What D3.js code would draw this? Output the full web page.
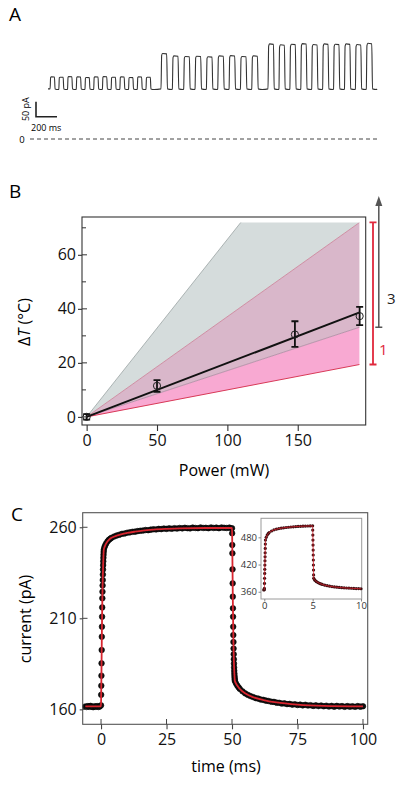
<!DOCTYPE html>
<html><head><meta charset="utf-8">
<script src="https://cdn.jsdelivr.net/npm/d3@7"></script>
<style>body{margin:0;background:#fff}svg{display:block}text{font-family:"Open Sans",sans-serif}</style>
</head><body><svg id="c" width="400" height="785"></svg>
<script>
// ---------- Panel A data ----------
const groupStartA = [20, 1076, 2095];          // ms
const groupPeriodA = [83, 108, 104];           // ms
const pulseAmpA1 = [40, 39, 41, 40, 38, 40, 41, 39, 40, 38, 40, 39];
const pulseAmpA2 = [118, 110, 108, 109, 107, 110, 111, 108, 110];
const pulseAmpA3 = [150, 147, 149, 151, 148, 150, 149, 150, 148, 152];
const baselineA = 167;                          // pA
const scaleBarA = {ms: 200, pA: 50};

// ---------- Panel B data ----------
const powerB = [0, 50, 148, 194];
const deltaTB = [0, 11.5, 30.5, 37.3];
const errLowB = [-1, 9.3, 25.9, 34];
const errHighB = [1, 13.6, 35.4, 40.7];
const fitPowerB = [0, 194];
const fitDeltaTB = [0, 38.7];
const bandPowerB = 194;
const greyHiB = 127.5, pinkHiB = 72, greyLoB = 33.2, pinkLoB = 19.4, capB = 72;
const xTicksB = [0, 50, 100, 150];
const yTicksB = [0, 20, 40, 60];
const yMinorB = [10, 30, 50, 70];

// ---------- Panel C data ----------
const timeC = [-6,-5.5,-5,-4.5,-4,-3.5,-3,-2.5,-2,-1.5,-1,-0.5,0,
 0.05,0.1,0.15,0.2,0.25,0.3,0.35,0.4,0.45,0.5,0.55,0.6,0.65,0.7,0.75,0.8,0.85,0.9,0.95,1,1.05,
 1.3,1.6,2,2.5,3,3.5,
 4,5,6,7,8,9,10,11,12,13,14,15,16,17,18,19,20,21,22,23,24,25,26,27,28,29,30,31,32,33,34,35,36,37,38,39,40,41,42,43,44,45,46,47,48,49,50,
 50.05,50.1,50.15,50.2,50.25,50.3,50.35,50.4,50.45,50.5,50.55,50.6,50.65,50.7,50.75,50.8,50.85,50.9,50.95,51,51.05,51.1,
 51.5,52,52.5,53,54,55,56,57,58,59,60,61,62,63,64,65,66,67,68,69,70,71,72,73,74,75,76,77,78,79,80,81,82,83,84,85,86,87,88,89,90,91,92,93,94,95,96,97,98,99,100];
const currentC = [161.6,161.3,161.8,161.4,161.9,161.5,161.2,161.7,161.4,161.8,161.3,161.6,162.2,
 168,173,178.5,185.3,192.6,199.9,205.4,210.9,216,221,224.6,228,231,234,236.8,239.2,241.3,243.2,244.9,246.4,247.6,
 249,250.1,251.2,252.3,253.1,253.7,
 254.2,254.9,255.5,255.9,256.4,256.6,257.0,257.2,257.5,257.6,257.9,258.1,258.2,258.5,258.4,258.7,258.9,258.8,259.1,259.0,259.3,259.1,259.4,259.2,259.5,259.3,259.6,259.4,259.7,259.5,259.4,259.8,259.6,259.5,259.9,259.6,259.7,259.5,259.9,259.6,259.8,259.5,259.9,259.7,259.6,259.8,259.5,
 256.7,250.3,245.7,236.9,229.2,221.9,215.5,210.9,205.4,200.8,197,193.4,190.3,187.5,185.1,183,181.2,179.7,178.4,177.3,176.4,175.6,
 174.3,173.1,172.1,171.2,169.9,168.8,168.0,167.3,166.8,166.2,165.9,165.4,165.2,164.8,164.6,164.2,164.1,163.7,163.6,163.2,163.3,162.9,163.0,162.6,162.8,162.4,162.6,162.2,162.5,162.1,162.3,161.9,162.2,161.8,162.1,161.7,162.0,161.6,161.9,161.5,161.9,161.6,161.8,161.4,161.8,161.5,161.7,161.4,161.8,161.5,161.7];
const fitTimeC = [-6,0,0.05,0.1,0.2,0.3,0.4,0.5,0.6,0.7,0.8,0.9,1.05,1.3,1.6,2,2.5,3,4,6,8,10,13,16,20,25,30,40,50,
 50.05,50.1,50.2,50.3,50.4,50.5,50.6,50.7,50.8,50.9,51.1,51.5,52,53,55,58,62,67,75,85,100];
const fitCurrentC = [161.6,161.6,168,173,185.3,199.9,210.9,221,228,234,239.2,243.2,247.6,249,250.1,251.2,252.3,253.1,254.2,255.4,256.3,256.9,257.6,258.2,258.7,259.1,259.4,259.6,259.6,
 256.7,250.3,236.9,221.9,210.9,200.8,193.4,187.5,183,179.7,175.6,174.3,173.1,171.2,168.8,166.7,165.1,163.8,162.6,161.9,161.6];
const xTicksC = [0, 25, 50, 75, 100];
const yTicksC = [160, 210, 260];

// inset
const timeI = [-0.05,0,0.01,0.02,0.03,0.04,0.05,0.06,0.07,0.08,0.09,0.1,0.11,0.12,
 0.2,0.3,0.4,0.5,0.75,1,1.25,1.5,1.75,2,2.25,2.5,2.75,3,3.25,3.5,3.75,4,4.25,4.5,4.75,5,
 5.01,5.02,5.03,5.04,5.05,5.06,5.07,5.08,5.09,5.1,5.11,
 5.2,5.3,5.4,5.55,5.7,5.85,6,6.25,6.5,6.75,7,7.25,7.5,7.75,8,8.25,8.5,8.75,9,9.25,9.5,9.75,10];
const currentI = [364,364.5,367.4,378.4,389.5,400.5,409.4,418.8,428.3,437.1,445.9,455.6,465.2,474,
 480,485,488,490.5,494,496.5,498,499.3,500.2,501,501.7,502.3,502.8,503.3,503.7,504,504.3,504.6,504.8,505,505.2,505.3,
 496,485,474,463,452,441,430,419,408,397,389.5,
 386,384,382.3,380.3,378.6,377.3,376.2,374.6,373.3,372.2,371.3,370.6,370,369.5,369,368.6,368.3,368,367.7,367.4,367.1,366.9,366.6];
const xTicksI = [0, 5, 10];
const yTicksI = [360, 420, 480];

const svg = d3.select("#c");
const FONT = '"Open Sans",sans-serif';

// ================= Panel A =================
svg.append("text").attr("x", 9).attr("y", 21).attr("font-size", 19).text("A");
const xA = d3.scaleLinear().domain([0, 3133]).range([48, 377]);
const yA = d3.scaleLinear().domain([0, 100]).range([139, 109]);
const traceA = [[0, baselineA]];
[pulseAmpA1, pulseAmpA2, pulseAmpA3].forEach((amps, g) => {
  const s0 = groupStartA[g], p = groupPeriodA[g];
  amps.forEach((a, i) => {
    const s = s0 + i * p;
    traceA.push([s, baselineA], [s + 0.06 * p, baselineA + a * 0.95], [s + 0.14 * p, baselineA + a],
      [s + 0.5 * p, baselineA + a * 0.99], [s + 0.57 * p, baselineA], [s + 0.93 * p, baselineA - 2]);
  });
});
traceA.push([3133, baselineA]);
svg.append("path").datum(traceA)
  .attr("d", d3.line().x(d => xA(d[0])).y(d => yA(d[1])).curve(d3.curveMonotoneX))
  .attr("fill", "none").attr("stroke", "#333").attr("stroke-width", 1.1);
// scale bar
const sbx = 36, sby = 116.7;
const sbLen = xA(scaleBarA.ms) - xA(0);
const sbH = yA(0) - yA(scaleBarA.pA);
svg.append("path").attr("d", `M${sbx},${sby - sbH}V${sby}H${sbx + sbLen}`)
  .attr("fill", "none").attr("stroke", "#222").attr("stroke-width", 1.6);
svg.append("text").attr("transform", `translate(28.5,${sby - sbH / 2}) rotate(-90)`)
  .attr("text-anchor", "middle").attr("font-size", 9).text(scaleBarA.pA + " pA");
svg.append("text").attr("x", 31).attr("y", 131).attr("font-size", 9).text(scaleBarA.ms + " ms");
svg.append("text").attr("x", 22).attr("y", yA(0) + 3.5).attr("text-anchor", "middle").attr("font-size", 9.5).text("0");
svg.append("line").attr("x1", 30).attr("x2", 378).attr("y1", yA(0)).attr("y2", yA(0))
  .attr("stroke", "#444").attr("stroke-width", 1).attr("stroke-dasharray", "4,3");

// ================= Panel B =================
svg.append("text").attr("x", 9).attr("y", 198).attr("font-size", 19).text("B");
const xB = d3.scaleLinear().domain([-3.3, 198.3]).range([82, 365.7]);
const yB = d3.scaleLinear().domain([-3, 74]).range([425, 217]);
const gB = svg.append("g");
const clip = svg.append("clipPath").attr("id", "clipB");
clip.append("rect").attr("x", xB(0) - 1).attr("y", yB(capB)).attr("width", xB(bandPowerB) - xB(0) + 1).attr("height", yB(0) - yB(capB) + 2);
const tri = (hi, lo) => `M${xB(0)},${yB(0)}L${xB(bandPowerB)},${yB(hi)}L${xB(bandPowerB)},${yB(lo)}Z`;
const bands = gB.append("g").attr("clip-path", "url(#clipB)");
bands.append("path").attr("d", tri(greyHiB, pinkHiB)).attr("fill", "#d5dcdc");
bands.append("path").attr("d", tri(pinkHiB, greyLoB)).attr("fill", "#d9b7ca");
bands.append("path").attr("d", tri(greyLoB, pinkLoB)).attr("fill", "#f8a9d2");
const ray = (v, col, w) => bands.append("line").attr("x1", xB(0)).attr("y1", yB(0))
  .attr("x2", xB(bandPowerB)).attr("y2", yB(v)).attr("stroke", col).attr("stroke-width", w);
ray(greyHiB, "#9aa3a3", 0.8);
ray(pinkHiB, "#c97d94", 0.8);
ray(greyLoB, "#a98aa0", 0.8);
ray(pinkLoB, "#d83a58", 1);
// fit
gB.append("path").datum(fitPowerB.map((p, i) => [p, fitDeltaTB[i]]))
  .attr("d", d3.line().x(d => xB(d[0])).y(d => yB(d[1])))
  .attr("stroke", "#111").attr("stroke-width", 2).attr("fill", "none");
// error bars + points
powerB.forEach((p, i) => {
  const x = xB(p);
  gB.append("path").attr("d", `M${x},${yB(errLowB[i])}V${yB(errHighB[i])}M${x - 3.5},${yB(errLowB[i])}H${x + 3.5}M${x - 3.5},${yB(errHighB[i])}H${x + 3.5}`)
    .attr("stroke", "#111").attr("stroke-width", 1.8).attr("fill", "none");
  gB.append("circle").attr("cx", x).attr("cy", yB(deltaTB[i])).attr("r", 3.6)
    .attr("fill", "none").attr("stroke", "#222").attr("stroke-width", 1);
});
// frame & axes
gB.append("rect").attr("x", 82).attr("y", 217).attr("width", 365.7 - 82).attr("height", 425 - 217)
  .attr("fill", "none").attr("stroke", "#333").attr("stroke-width", 1.1);
const axLB = gB.append("g").attr("transform", "translate(82,0)")
  .call(d3.axisLeft(yB).tickValues(yTicksB).tickSize(4).tickFormat(d3.format("d")));
const axBB = gB.append("g").attr("transform", "translate(0,425)")
  .call(d3.axisBottom(xB).tickValues(xTicksB).tickSize(6).tickFormat(d3.format("d")));
[axLB, axBB].forEach(a => { a.select(".domain").remove(); a.selectAll("line").attr("stroke", "#333").attr("stroke-width", 1.1);
  a.selectAll("text").attr("font-size", 16).attr("font-family", FONT).attr("fill", "#111"); });
axLB.selectAll("text").attr("x", -6);
axBB.selectAll("text").attr("y", 21).attr("dy", 0);
yTicksB.forEach(v => gB.append("line").attr("x1", 82).attr("x2", 87).attr("y1", yB(v)).attr("y2", yB(v)).attr("stroke", "#333"));
yMinorB.forEach(v => gB.append("line").attr("x1", 82).attr("x2", 86).attr("y1", yB(v)).attr("y2", yB(v)).attr("stroke", "#333"));
// range bars
const rx = 373;
gB.append("path").attr("d", `M${rx},${yB(pinkLoB)}V${yB(pinkHiB)}M${rx - 3.5},${yB(pinkLoB)}H${rx + 3.5}M${rx - 3.5},${yB(pinkHiB)}H${rx + 3.5}`)
  .attr("stroke", "#e0283c").attr("stroke-width", 1.8).attr("fill", "none");
const gx = 378.8;
gB.append("path").attr("d", `M${gx - 3.5},${yB(greyLoB)}H${gx + 3.5}M${gx},${yB(greyLoB)}V204`)
  .attr("stroke", "#555").attr("stroke-width", 1.5).attr("fill", "none");
gB.append("path").attr("d", `M${gx},196L${gx - 3.5},206L${gx + 3.5},206Z`).attr("fill", "#555");
gB.append("text").attr("x", 387).attr("y", 304).attr("font-size", 15).attr("fill", "#222").text("3");
gB.append("text").attr("x", 379).attr("y", 355).attr("font-size", 15).attr("fill", "#e0283c").text("1");
gB.append("text").attr("x", 224).attr("y", 476).attr("text-anchor", "middle").attr("font-size", 16).text("Power (mW)");
const yl = gB.append("text").attr("transform", "translate(30,322) rotate(-90)").attr("text-anchor", "middle").attr("font-size", 16);
yl.append("tspan").text("Δ");
yl.append("tspan").attr("font-style", "italic").text("T");
yl.append("tspan").text(" (°C)");

// ================= Panel C =================
svg.append("text").attr("x", 11).attr("y", 521).attr("font-size", 19).text("C");
const xC = d3.scaleLinear().domain([-7, 101.8]).range([82.7, 367.7]);
const yC = d3.scaleLinear().domain([151.8, 268]).range([724.3, 512.7]);
const gC = svg.append("g");
gC.append("g").selectAll("circle").data(timeC.map((t, i) => [t, currentC[i]])).join("circle")
  .attr("cx", d => xC(d[0])).attr("cy", d => yC(d[1])).attr("r", 2.8)
  .attr("fill", "#111").attr("stroke", "#000").attr("stroke-width", 0.6);
gC.append("path").datum(fitTimeC.map((t, i) => [t, fitCurrentC[i]]))
  .attr("d", d3.line().x(d => xC(d[0])).y(d => yC(d[1])).curve(d3.curveMonotoneX))
  .attr("fill", "none").attr("stroke", "#d8252f").attr("stroke-width", 1.8);
gC.append("rect").attr("x", 82.7).attr("y", 512.7).attr("width", 367.7 - 82.7).attr("height", 724.3 - 512.7)
  .attr("fill", "none").attr("stroke", "#555").attr("stroke-width", 1.1);
const axLC = gC.append("g").attr("transform", "translate(82.7,0)")
  .call(d3.axisLeft(yC).tickValues(yTicksC).tickSize(3).tickFormat(d3.format("d")));
const axBC = gC.append("g").attr("transform", "translate(0,724.3)")
  .call(d3.axisBottom(xC).tickValues(xTicksC).tickSize(5).tickFormat(d3.format("d")));
[axLC, axBC].forEach(a => { a.select(".domain").remove(); a.selectAll("line").attr("stroke", "#444").attr("stroke-width", 1.1);
  a.selectAll("text").attr("font-size", 16).attr("font-family", FONT).attr("fill", "#111"); });
axLC.selectAll("text").attr("x", -6);
axBC.selectAll("text").attr("y", 21).attr("dy", 0);
yTicksC.forEach(v => gC.append("line").attr("x1", 82.7).attr("x2", 87.5).attr("y1", yC(v)).attr("y2", yC(v)).attr("stroke", "#444"));
xTicksC.forEach(v => gC.append("line").attr("x1", xC(v)).attr("x2", xC(v)).attr("y1", 724.3).attr("y2", 719).attr("stroke", "#444"));
gC.append("text").attr("x", 226).attr("y", 772).attr("text-anchor", "middle").attr("font-size", 16).text("time (ms)");
gC.append("text").attr("transform", "translate(31,619) rotate(-90)").attr("text-anchor", "middle").attr("font-size", 16).text("current (pA)");

// inset
const xI = d3.scaleLinear().domain([-0.34, 10.07]).range([261, 361.7]);
const yI = d3.scaleLinear().domain([344, 522]).range([599, 518.3]);
const gI = svg.append("g");
gI.append("rect").attr("x", 261).attr("y", 518.3).attr("width", 361.7 - 261).attr("height", 599 - 518.3)
  .attr("fill", "#fff").attr("stroke", "#9a9a9a").attr("stroke-width", 1);
gI.append("g").selectAll("circle").data(timeI.map((t, i) => [t, currentI[i]])).join("circle")
  .attr("cx", d => xI(d[0])).attr("cy", d => yI(d[1])).attr("r", 1.6).attr("fill", "#3a0d10");
gI.append("path").datum(timeI.map((t, i) => [t, currentI[i]]))
  .attr("d", d3.line().x(d => xI(d[0])).y(d => yI(d[1])).curve(d3.curveMonotoneX))
  .attr("fill", "none").attr("stroke", "#d8252f").attr("stroke-width", 0.8);
const axLI = gI.append("g").attr("transform", "translate(261,0)")
  .call(d3.axisLeft(yI).tickValues(yTicksI).tickSize(2.5).tickPadding(1.5));
const axBI = gI.append("g").attr("transform", "translate(0,599)")
  .call(d3.axisBottom(xI).tickValues(xTicksI).tickSize(2.5).tickPadding(1));
[axLI, axBI].forEach(a => { a.select(".domain").remove(); a.selectAll("line").attr("stroke", "#888");
  a.selectAll("text").attr("font-size", 9.5).attr("font-family", FONT).attr("fill", "#333"); });
</script></body></html>
